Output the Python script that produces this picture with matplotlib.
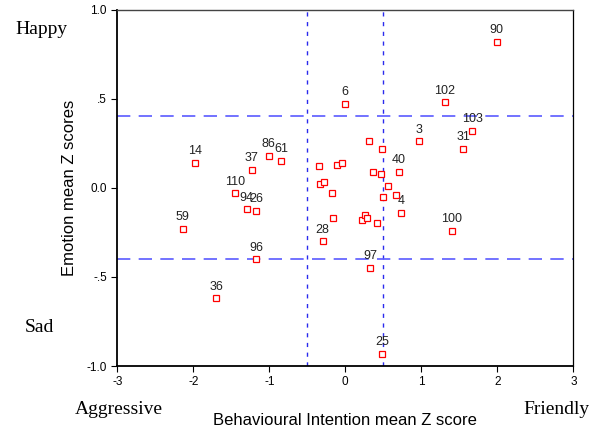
import numpy as np
import matplotlib
matplotlib.use("Agg")
import matplotlib.pyplot as plt

# ============ Data ============

point_ids = ["90", "6", "102", "103", "31", "3", "14", "86", "61", "37",
             "40", "110", "94", "26", "4", "59", "100", "28", "96", "97",
             "36", "25",
             "", "", "", "", "", "", "", "", "", "",
             "", "", "", "", "", "", "", ""]
behaviour_z = [1.99, 0.00, 1.31, 1.67, 1.55, 0.97, -1.98, -1.01, -0.84, -1.23,
               0.70, -1.45, -1.30, -1.17, 0.73, -2.14, 1.40, -0.30, -1.17, 0.33,
               -1.70, 0.48,
               0.31, 0.48, -0.35, -0.11, -0.05, 0.37, 0.47, -0.33, -0.28, -0.18,
               0.56, 0.67, 0.50, -0.16, 0.22, 0.26, 0.28, 0.42]
emotion_z = [0.82, 0.47, 0.48, 0.32, 0.22, 0.26, 0.14, 0.18, 0.15, 0.10,
             0.09, -0.03, -0.12, -0.13, -0.14, -0.23, -0.24, -0.30, -0.40, -0.45,
             -0.62, -0.93,
             0.26, 0.22, 0.12, 0.13, 0.14, 0.09, 0.08, 0.02, 0.03, -0.03,
             0.01, -0.04, -0.05, -0.17, -0.18, -0.15, -0.17, -0.20]

x_ticks = [-3, -2, -1, 0, 1, 2, 3]
y_ticks = [-1.0, -0.5, 0.0, 0.5, 1.0]
y_tick_labels = ["-1.0", "-.5", "0.0", ".5", "1.0"]
cut_x = [-0.5, 0.5]
cut_y = [-0.4, 0.4]

# ============ Plot ============

plt.rcParams["font.family"] = ["Liberation Sans", "DejaVu Sans"]
plt.rcParams["axes.unicode_minus"] = False

fig = plt.figure(figsize=(5.97, 4.25), dpi=100)
ax = fig.add_axes([0.1965, 0.1388, 0.7638, 0.8388])

# quadrant cut lines
for cx in cut_x:
    ax.axvline(cx, color="#2a2aee", lw=1.0, linestyle=(0, (3, 4)), zorder=1)
for cy in cut_y:
    ax.axhline(cy, color="#5a5aff", lw=1.2, linestyle=(0, (8, 5)), zorder=1)

ax.plot(behaviour_z, emotion_z, linestyle="none", marker="s", markersize=4,
        markerfacecolor="white", markeredgecolor="red", markeredgewidth=0.9,
        zorder=3)

for lab, x, y in zip(point_ids, behaviour_z, emotion_z):
    if lab:
        ax.annotate(lab, (x, y), xytext=(0, 4), textcoords="offset points",
                    ha="center", va="bottom", fontsize=9, color="#222222")

ax.set_xlim(-3, 3)
ax.set_ylim(-1, 1)
ax.set_xticks(x_ticks)
ax.set_yticks(y_ticks)
ax.set_yticklabels(y_tick_labels)
ax.tick_params(labelsize=8.5, length=4, width=0.8, direction="out")

for side in ["left", "bottom"]:
    ax.spines[side].set_linewidth(1.3)
ax.spines["top"].set_linewidth(1.0)
ax.spines["top"].set_color("#444444")
ax.spines["right"].set_linewidth(0.9)

ax.set_xlabel("Behavioural Intention mean Z score", fontsize=12, labelpad=18)
ax.set_ylabel("Emotion mean Z scores", fontsize=12, labelpad=7)

# anchor words
serif = ["Liberation Serif", "DejaVu Serif"]
fig.text(15 / 597, 1 - 30 / 425, "Happy", family=serif, fontsize=14, va="center")
fig.text(25 / 597, 1 - 327 / 425, "Sad", family=serif, fontsize=14, va="center")
fig.text(75 / 597, 1 - 410 / 425, "Aggressive", family=serif, fontsize=14, va="center")
fig.text(523 / 597, 1 - 410 / 425, "Friendly", family=serif, fontsize=14, va="center")

fig.savefig("out.png", dpi=100)
